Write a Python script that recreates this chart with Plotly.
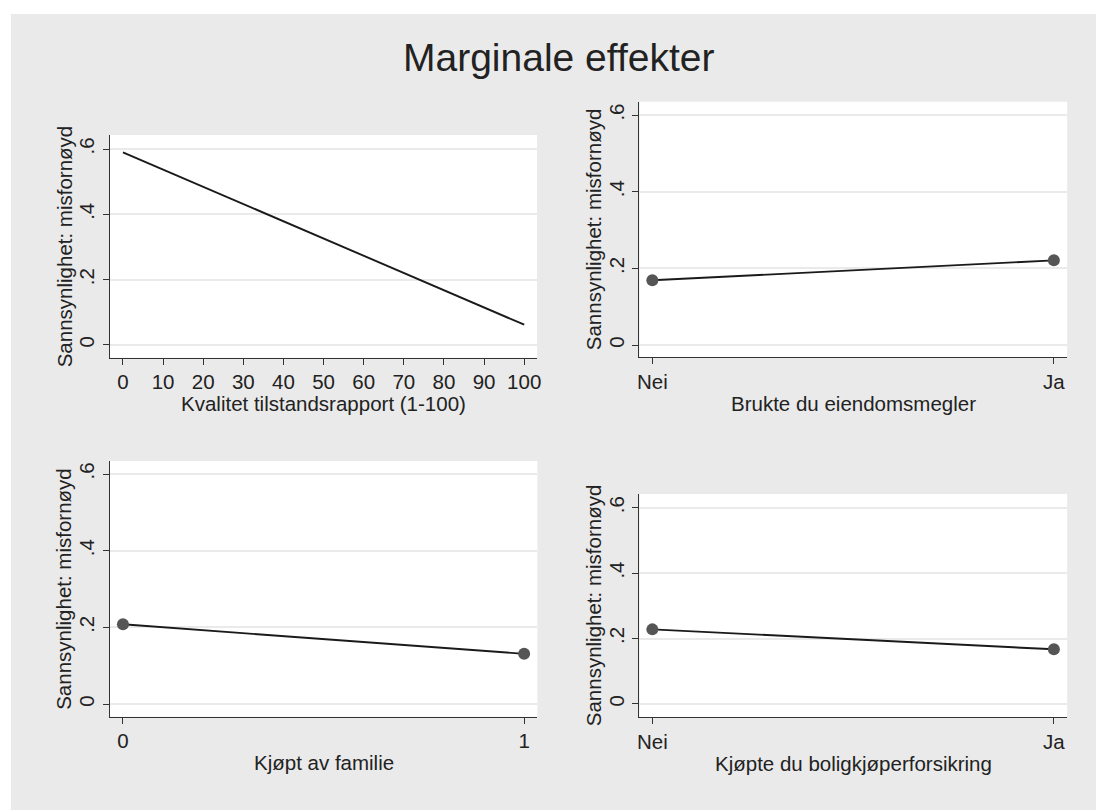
import plotly.graph_objects as go

# Predicted probability of being dissatisfied (marginal effects)
kvalitet_x = [0, 10, 20, 30, 40, 50, 60, 70, 80, 90, 100]
kvalitet_y = [0.590, 0.537, 0.484, 0.432, 0.379, 0.326, 0.273, 0.221, 0.168, 0.115, 0.062]

megler_x = [0, 1]
megler_y = [0.169, 0.221]
megler_labels = ["Nei", "Ja"]

familie_x = [0, 1]
familie_y = [0.208, 0.131]
familie_labels = ["0", "1"]

forsikring_x = [0, 1]
forsikring_y = [0.228, 0.167]
forsikring_labels = ["Nei", "Ja"]

y_ticks = [0, 0.2, 0.4, 0.6]
y_ticktext = ["0", ".2", ".4", ".6"]

title_text = "Marginale effekter"
y_title = "Sannsynlighet: misfornøyd"
x_titles = [
    "Kvalitet tilstandsrapport (1-100)",
    "Brukte du eiendomsmegler",
    "Kjøpt av familie",
    "Kjøpte du boligkjøperforsikring",
]

W, H = 1096, 810
FONT = "Liberation Sans, Arial, sans-serif"
TXT = "#222222"
BG = "#EAEAEA"
AX = "#333333"
FS = 20.5


def px_x(p):
    return p / W


def px_y(p):
    return 1 - p / H


# panel boxes in pixels: left, right, top, bottom
panels = [
    dict(l=108.3, r=538.0, t=135.0, b=357.7, xr=[-3.3, 103.2], yr=[-0.039, 0.643]),
    dict(l=641.0, r=1071.0, t=101.7, b=357.3, xr=[-0.032, 1.033], yr=[-0.032, 0.635]),
    dict(l=108.3, r=538.3, t=461.0, b=716.7, xr=[-0.033, 1.033], yr=[-0.033, 0.634]),
    dict(l=641.0, r=1071.0, t=494.0, b=717.0, xr=[-0.032, 1.033], yr=[-0.040, 0.642]),
]

series = [
    (kvalitet_x, kvalitet_y, "lines", kvalitet_x, [str(v) for v in kvalitet_x]),
    (megler_x, megler_y, "lines+markers", megler_x, megler_labels),
    (familie_x, familie_y, "lines+markers", familie_x, familie_labels),
    (forsikring_x, forsikring_y, "lines+markers", forsikring_x, forsikring_labels),
]

fig = go.Figure()
layout = dict(
    width=W,
    height=H,
    margin=dict(l=0, r=0, t=0, b=0),
    paper_bgcolor=BG,
    plot_bgcolor="white",
    showlegend=False,
    font=dict(family=FONT, color=TXT, size=FS),
    annotations=[],
    shapes=[
        # grey band along the right edge, then the white frame strips on top
        dict(type="rect", xref="paper", yref="paper", x0=px_x(1076), x1=1.01, y0=-0.01, y1=1,
             fillcolor=BG, line=dict(width=0), layer="above"),
        dict(type="rect", xref="paper", yref="paper", x0=0, x1=1.01, y0=px_y(14), y1=1.01,
             fillcolor="white", line=dict(width=0), layer="above"),
        dict(type="rect", xref="paper", yref="paper", x0=-0.01, x1=px_x(9), y0=-0.01, y1=1,
             fillcolor="white", line=dict(width=0), layer="above"),
    ],
)

for i, (p, (xs, ys, mode, tv, tt)) in enumerate(zip(panels, series), start=1):
    xa = "x" if i == 1 else f"x{i}"
    ya = "y" if i == 1 else f"y{i}"
    fig.add_trace(go.Scatter(
        x=xs, y=ys, mode=mode, xaxis=xa, yaxis=ya,
        line=dict(color="#1a1a1a", width=1.9),
        marker=dict(color="#555555", size=12),
        hoverinfo="skip",
    ))
    layout["xaxis" if i == 1 else f"xaxis{i}"] = dict(
        domain=[px_x(p["l"]), px_x(p["r"])],
        anchor=ya, range=p["xr"],
        tickmode="array", tickvals=tv, ticktext=tt,
        ticks="outside", ticklen=6, tickwidth=1, tickcolor=AX,
        showline=True, linecolor=AX, linewidth=1.2,
        showgrid=False, zeroline=False,
        tickfont=dict(size=FS, color=TXT),
    )
    layout["yaxis" if i == 1 else f"yaxis{i}"] = dict(
        domain=[px_y(p["b"]), px_y(p["t"])],
        anchor=xa, range=p["yr"],
        tickmode="array", tickvals=y_ticks, ticktext=y_ticktext,
        tickangle=-90,
        ticks="outside", ticklen=6, tickwidth=1, tickcolor=AX,
        showline=True, linecolor=AX, linewidth=1.2,
        showgrid=True, gridcolor=BG, gridwidth=2, zeroline=False,
        tickfont=dict(size=FS, color=TXT),
    )
    # axis titles
    layout["annotations"].append(dict(
        text=x_titles[i - 1], xref="paper", yref="paper",
        x=px_x((p["l"] + p["r"]) / 2),
        y=px_y(p["b"] + 46), xanchor="center", yanchor="middle",
        showarrow=False, font=dict(size=FS, color=TXT),
    ))
    layout["annotations"].append(dict(
        text=y_title, xref="paper", yref="paper",
        x=px_x(p["l"] - 46), y=px_y((p["t"] + p["b"]) / 2),
        xanchor="center", yanchor="middle", textangle=-90,
        showarrow=False, font=dict(size=FS, color=TXT),
    ))

layout["annotations"].append(dict(
    text=title_text, xref="paper", yref="paper",
    x=px_x(560), y=px_y(57), xanchor="center", yanchor="middle",
    showarrow=False, font=dict(size=39, color=TXT),
))

fig.update_layout(**layout)
fig.write_html("out.html")
